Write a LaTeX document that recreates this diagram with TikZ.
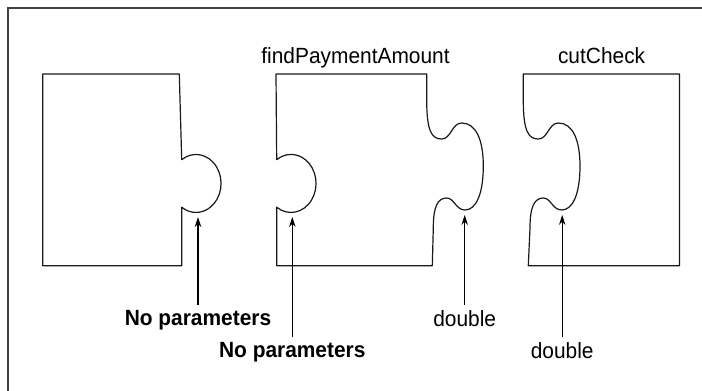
\documentclass[tikz,border=0pt]{standalone}
\usepackage{fontspec}
\setmainfont{Liberation Sans}[FakeStretch=0.95]
\usetikzlibrary{arrows.meta}
\begin{document}
\begin{tikzpicture}[x=1pt,y=-1pt,
  piece/.style={draw=black!90,line width=1.2pt,line join=round},
  frameline/.style={draw=black!75,line width=1.6pt},
  lbl/.style={inner sep=0pt,outer sep=0pt,anchor=base,font=\fontsize{22}{26}\selectfont},
  blbl/.style={lbl,font=\fontsize{22}{26}\selectfont\bfseries},
  arr/.style={draw=black,line width=1.2pt,-{Stealth[length=10pt,width=6.5pt]},shorten <=5pt}]
\useasboundingbox (0,0) rectangle (702,391);
\fill[white] (0,0) rectangle (702,391);
% frame (left and top)
\draw[frameline] (8,391) -- (8,8) -- (702,8);
% piece 1
\draw[piece] (42.7,74) -- (179.3,74) -- (181.7,159.7)
  arc[start angle=-125,end angle=125,x radius=25,y radius=29]
  -- (181.7,265.7) -- (42.7,265.7) -- cycle;
% piece 2
\draw[piece] (276,74) -- (426.7,74) -- (426.7,100)
  .. controls (426.7,132) and (432,139) .. (441.7,139)
  .. controls (451,139) and (452,123) .. (461.7,123)
  .. controls (476,123) and (483.3,140) .. (483.3,166)
  .. controls (483.3,194) and (476,210) .. (465,210)
  .. controls (456,210) and (454,198) .. (446.7,198)
  .. controls (438,198) and (433.3,206) .. (433.3,228)
  -- (432.3,265.7) -- (276.7,265.7) -- (276.7,207.2)
  arc[start angle=125,end angle=-125,x radius=25,y radius=29]
  -- cycle;
% piece 3
\draw[piece] (523.3,74) -- (523.3,100)
  .. controls (523.3,132) and (528.7,139) .. (538.4,139)
  .. controls (547.7,139) and (548.7,123) .. (558.4,123)
  .. controls (572.7,123) and (580,140) .. (580,166)
  .. controls (580,194) and (572.7,210) .. (561.7,210)
  .. controls (552.7,210) and (550.7,198) .. (543.4,198)
  .. controls (534.7,198) and (530,206) .. (530,228)
  -- (528.3,265.7) -- (679.5,265.7) -- (679.5,74) -- cycle;
% titles
\node[lbl] (t2) at (355.5,63.3) {findPaymentAmount};
\node[lbl] (t3) at (601.6,63) {cutCheck};
% labels
\node[blbl] (n1) at (198,325) {No parameters};
\node[blbl] (n2) at (292.3,357.3) {No parameters};
\node[lbl] (d1) at (464.7,326) {double};
\node[lbl] (d2) at (562.2,358.3) {double};
% arrow tips
\coordinate (k1) at (198,217);
\coordinate (k2) at (292.3,217);
\coordinate (k3) at (464.7,215);
\coordinate (k4) at (562.2,215);
\draw[arr] (n1.north) -- (k1);
\draw[arr] (n2.north) -- (k2);
\draw[arr] (d1.north) -- (k3);
\draw[arr] (d2.north) -- (k4);
\end{tikzpicture}
\end{document}
